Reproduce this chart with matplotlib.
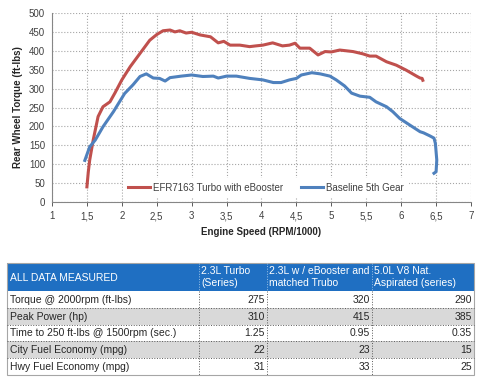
import matplotlib.pyplot as plt
from matplotlib.patches import Rectangle

plt.rcParams['font.family'] = ['Liberation Sans', 'DejaVu Sans']

# torque curves (rpm/1000, ft-lbs)
ebooster_rpm = [1.50, 1.52, 1.54, 1.59, 1.66, 1.73, 1.83, 1.90, 2.00, 2.12, 2.26, 2.40,
                2.50, 2.59, 2.69, 2.76, 2.83, 2.92, 3.00, 3.12, 3.27, 3.38, 3.46, 3.55,
                3.69, 3.83, 3.92, 4.02, 4.16, 4.30, 4.40, 4.48, 4.55, 4.69, 4.81, 4.91,
                5.00, 5.12, 5.31, 5.45, 5.55, 5.64, 5.79, 5.93, 6.07, 6.22, 6.27, 6.30, 6.31]
ebooster_tq = [40, 80, 111, 164, 226, 252, 265, 288, 323, 358, 393, 428,
               443, 453, 455, 450, 453, 447, 449, 442, 437, 421, 425, 415,
               415, 411, 413, 415, 421, 413, 415, 420, 407, 407, 389, 398,
               397, 402, 398, 392, 386, 386, 371, 362, 349, 333, 328, 327, 322]

baseline_rpm = [1.47, 1.54, 1.62, 1.73, 1.88, 2.04, 2.16, 2.26, 2.35, 2.45, 2.54, 2.62,
                2.69, 2.85, 3.00, 3.16, 3.31, 3.38, 3.50, 3.64, 3.83, 4.02, 4.17, 4.28,
                4.40, 4.50, 4.57, 4.72, 4.84, 4.98, 5.07, 5.19, 5.29, 5.41, 5.55, 5.64,
                5.79, 5.88, 5.98, 6.12, 6.27, 6.32, 6.41, 6.47, 6.49, 6.51, 6.50, 6.47]
baseline_tq = [110, 146, 164, 199, 239, 287, 310, 332, 339, 328, 327, 320,
               329, 333, 336, 332, 333, 328, 333, 333, 327, 323, 316, 316,
               323, 327, 336, 342, 339, 333, 323, 307, 288, 280, 277, 265,
               252, 239, 221, 204, 186, 183, 175, 169, 155, 111, 80, 76]

x_ticks = [1, 1.5, 2, 2.5, 3, 3.5, 4, 4.5, 5, 5.5, 6, 6.5, 7]
x_labels = ['1', '1,5', '2', '2,5', '3', '3,5', '4', '4,5', '5', '5,5', '6', '6,5', '7']
y_ticks = list(range(0, 501, 50))

# table
col_headers = ['ALL DATA MEASURED', '2.3L Turbo\n(Series)',
               '2.3L w / eBooster and\nmatched Trubo', '5.0L V8 Nat.\nAspirated (series)']
row_labels = ['Torque @ 2000rpm (ft-lbs)', 'Peak Power (hp)',
              'Time to 250 ft-lbs @ 1500rpm (sec.)', 'City Fuel Economy (mpg)',
              'Hwy Fuel Economy (mpg)']
turbo_vals = ['275', '310', '1.25', '22', '31']
ebooster_vals = ['320', '415', '0.95', '23', '33']
v8_vals = ['290', '385', '0.35', '15', '25']

W, H = 484, 383
fig = plt.figure(figsize=(W / 100, H / 100), dpi=100)

ax = fig.add_axes([52 / W, 1 - 202 / H, 419 / W, 189 / H])
ax.plot(ebooster_rpm, ebooster_tq, color='#c0504d', lw=2.2,
        label='EFR7163 Turbo with eBooster')
ax.plot(baseline_rpm, baseline_tq, color='#4f81bd', lw=2.2,
        label='Baseline 5th Gear')
ax.set_xlim(1, 7)
ax.set_ylim(0, 500)
ax.set_xticks(x_ticks)
ax.set_xticklabels(x_labels)
ax.set_yticks(y_ticks)
ax.grid(True, ls=':', color='#a6a6a6', lw=0.8)
ax.set_axisbelow(True)
for s in ['top', 'right']:
    ax.spines[s].set_visible(False)
for s in ['left', 'bottom']:
    ax.spines[s].set_color('#868686')
ax.tick_params(labelsize=7, colors='#404040', length=3, width=0.6)
ax.tick_params(axis='y', length=0, pad=5)
ax.set_xlabel('Engine Speed (RPM/1000)', fontsize=7, fontweight='bold', color='#262626')
ax.set_ylabel('Rear Wheel Torque (ft-lbs)', fontsize=7, fontweight='bold', color='#262626')
leg = ax.legend(loc='center', bbox_to_anchor=(0.51, 0.075), ncol=2, fontsize=7,
                frameon=True, facecolor='white', edgecolor='none', framealpha=1,
                handlelength=2.3, columnspacing=1.8, handletextpad=0.3,
                borderpad=0.5)
for t in leg.get_texts():
    t.set_color('#404040')

# table drawn in pixel units
tx = fig.add_axes([0, 0, 1, 1])
tx.set_xlim(0, W)
tx.set_ylim(H, 0)
tx.axis('off')

col_x = [7, 199, 267, 372, 474]
top, head_h, row_h = 263, 28, 16.8
header_blue = '#1f6fc2'

tx.add_patch(Rectangle((col_x[0], top), col_x[-1] - col_x[0], head_h,
                       color=header_blue, lw=0))
for j, txt in enumerate(col_headers):
    if j == 0:
        tx.text(col_x[0] + 3, top + head_h / 2 + 1, txt, fontsize=7.5, color='white',
                va='center', ha='left')
    else:
        tx.text(col_x[j] + 2, top + head_h / 2, txt, fontsize=7.5, color='white',
                va='center', ha='left', linespacing=1.35)
    if j > 0:
        tx.plot([col_x[j], col_x[j]], [top, top + head_h], ls=':', color='#9dc3e6', lw=0.7)

columns = [turbo_vals, ebooster_vals, v8_vals]
for i, label in enumerate(row_labels):
    y0 = top + head_h + i * row_h
    fc = '#d9d9d9' if i % 2 == 1 else 'white'
    tx.add_patch(Rectangle((col_x[0], y0), col_x[-1] - col_x[0], row_h, color=fc, lw=0))
    tx.text(col_x[0] + 3, y0 + row_h / 2 + 0.5, label, fontsize=7.5, color='#262626',
            va='center', ha='left')
    for j, vals in enumerate(columns):
        tx.text(col_x[j + 2] - 2, y0 + row_h / 2 + 0.5, vals[i], fontsize=7.5,
                color='#262626', va='center', ha='right')
    if i > 0:
        tx.plot([col_x[0], col_x[-1]], [y0, y0], ls=':', color='#595959', lw=0.7)

bottom = top + head_h + len(row_labels) * row_h
for x in col_x[1:-1]:
    tx.plot([x, x], [top + head_h, bottom], ls=':', color='#595959', lw=0.7)
tx.add_patch(Rectangle((col_x[0], top), col_x[-1] - col_x[0], bottom - top,
                       fill=False, ec='#a6a6a6', lw=0.8))

fig.savefig('out.png', dpi=100)
